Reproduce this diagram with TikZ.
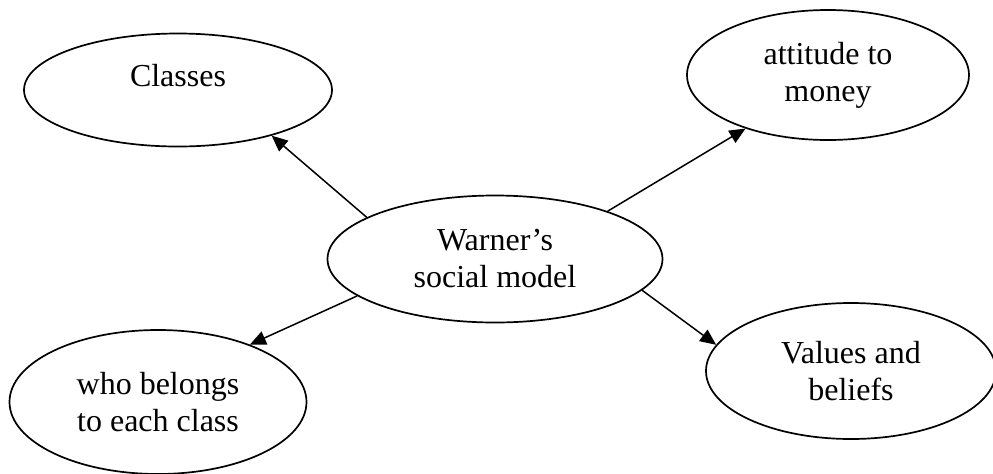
\documentclass[tikz,border=0pt]{standalone}
\usepackage{fontspec}
\setmainfont{Liberation Serif}
\usetikzlibrary{shapes.geometric,arrows.meta}
\begin{document}
\begin{tikzpicture}[x=0.5pt, y=-0.5pt,
    bubble/.style={draw, ellipse, line width=0.85pt, inner sep=0pt, align=center,
      font=\fontsize{16}{18.5}\selectfont},
    link/.style={-{Triangle[length=8pt,width=7pt]}, line width=0.75pt}]
    \useasboundingbox (0, 0) rectangle (993, 473);

    \node [bubble, minimum width=154pt, minimum height=56.5pt, text depth=15pt] (classes) at (178, 90) {Classes};
    \node [bubble, minimum width=141pt, minimum height=65pt] (money) at (828, 75) {attitude to\\money};
    \node [bubble, minimum width=167.5pt, minimum height=63.5pt] (warner) at (495, 259) {Warner's\\social model};
    \node [bubble, minimum width=148.5pt, minimum height=72pt] (who) at (158, 402) {who belongs\\to each class};
    \node [bubble, minimum width=145pt, minimum height=68pt] (values) at (851, 371) {Values and\\beliefs};

    \draw [link] (warner.162) -- (classes.334);
    \draw [link] (warner.23) -- (money.213);
    \draw [link] (warner.195) -- (who.32);
    \draw [link] (warner.348) -- (values.169);
  \end{tikzpicture}
\end{document}
